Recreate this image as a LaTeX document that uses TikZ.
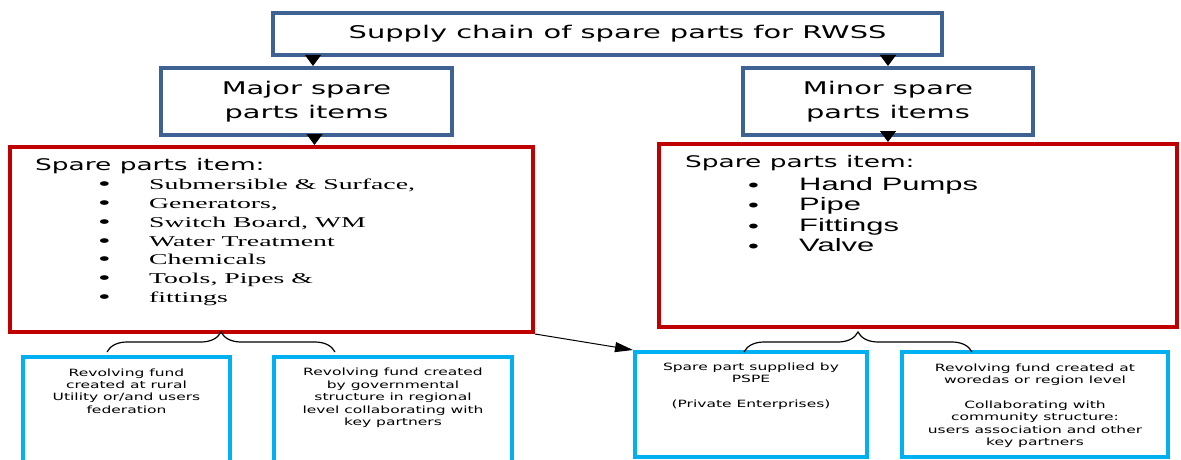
\documentclass[tikz,border=0pt]{standalone}
\usepackage{fontspec}
\usepackage{tikz}
\usetikzlibrary{arrows.meta, calc, decorations.pathreplacing, positioning}
\newfontfamily\headfont[FakeStretch=1.65]{DejaVu Sans}
\newfontfamily\fundfont[FakeStretch=1.55]{DejaVu Sans}
\newfontfamily\serifitems[FakeStretch=1.85]{Liberation Serif}
\newfontfamily\sansitems[FakeStretch=1.72]{Liberation Sans}
\newcommand{\bul}[1][1.3]{\makebox[51pt][l]{\smash{\raisebox{-0.06em}{\scalebox{#1}{\textbullet}}}}}
\tikzset{
    bluenode/.style = {draw=boxblue, line width=4pt, rectangle, fill=white, inner sep=0pt,
      node distance=0em, align=center, font=\headfont\fontsize{17.5}{24}\selectfont},
    rednode/.style = {draw=boxred, line width=4pt, rectangle, inner sep=0pt, node distance=0em},
    cyannode/.style = {draw=boxcyan, line width=4pt, rectangle, inner sep=0pt, node distance=0em},
    textnode/.style = {draw=none, fill=none, rectangle, inner sep=0pt, node distance=0em, align=left},
    fundtext/.style = {textnode, align=center, font=\fundfont\fontsize{10}{12.4}\selectfont},
    connect/.style = {black, line width=1pt, -{Triangle[width=16pt,length=11pt]}},
    bracket/.style = {black, line width=1.2pt, decorate, decoration={brace, amplitude=20pt}}
}
\definecolor{boxblue}{RGB}{62, 99, 146}
\definecolor{boxred}{RGB}{192, 0, 0}
\definecolor{boxcyan}{RGB}{0, 176, 240}

\begin{document}
\begin{tikzpicture}[x=1pt, y=-1pt]
\useasboundingbox (0,0) rectangle (1181,460);
\clip (0,0) rectangle (1181,460);

% chain head and the two branches
\node [bluenode, name=supply, minimum width=669pt, minimum height=42pt] at (607.5,34) {\hspace*{20pt}Supply chain of spare parts for RWSS};
\node [bluenode, name=major, minimum width=291pt, minimum height=67pt, below of=supply, xshift=-301pt, yshift=-67.5pt] {Major spare\\parts items};
\node [bluenode, name=minor, minimum width=290pt, minimum height=67pt, below of=supply, xshift=280.5pt, yshift=-67.5pt] {Minor spare\\parts items};

% item lists
\node [rednode, name=majoritems, minimum width=523pt, minimum height=185pt, below of=major, xshift=-35pt, yshift=-138pt] {};
\node [rednode, name=minoritems, minimum width=518pt, minimum height=183pt, below of=minor, xshift=30pt, yshift=-134pt] {};

\node [textnode, name=majorhead, anchor=west, font=\headfont\fontsize{16}{20}\selectfont] at ($(majoritems.north west)+(27,21)$) {Spare parts item:};
\node [textnode, name=majorlist, anchor=west, font=\serifitems\fontsize{15}{18.8}\selectfont] at ($(majoritems.north west)+(90,97.5)$)
  {\bul Submersible \& Surface,\\ \bul Generators,\\ \bul Switch Board, WM\\ \bul Water Treatment\\ \bul Chemicals\\ \bul Tools, Pipes \&\\ \bul fittings};

\node [textnode, name=minorhead, anchor=west, font=\headfont\fontsize{16}{20}\selectfont] at ($(minoritems.north west)+(28,21)$) {Spare parts item:};
\node [textnode, name=minorlist, anchor=west, font=\sansitems\fontsize{18}{20.3}\selectfont] at ($(minoritems.north west)+(91,72.5)$)
  {\bul[1]Hand Pumps\\ \bul[1]Pipe\\ \bul[1]Fittings\\ \bul[1]Valve};

% funding boxes
\node [cyannode, name=fund1, minimum width=207pt, minimum height=110pt, below of=majoritems, xshift=-145pt, yshift=-172.5pt] {};
\node [cyannode, name=fund2, minimum width=238pt, minimum height=110pt, below of=majoritems, xshift=121.5pt, yshift=-172.5pt] {};
\node [cyannode, name=pspe, minimum width=232pt, minimum height=105pt, below of=minoritems, xshift=-167pt, yshift=-169pt] {};
\node [cyannode, name=fund4, minimum width=266pt, minimum height=105pt, below of=minoritems, xshift=117pt, yshift=-169pt] {};

\node [fundtext, name=fund1text, below of=fund1, yshift=21pt] {Revolving fund\\created at rural\\Utility or/and users\\federation};
\node [fundtext, name=fund2text, below of=fund2, yshift=14pt] {Revolving fund created\\by governmental\\structure in regional\\level collaborating with\\key partners};
\node [fundtext, name=pspetext, below of=pspe, yshift=18.5pt] {Spare part supplied by\\PSPE\\[12.4pt](Private Enterprises)};
\node [fundtext, name=fund4text, below of=fund4, yshift=-1pt] {Revolving fund created at\\woredas or region level\\[12.4pt]Collaborating with\\community structure:\\users association and other\\key partners};

% arrows
\draw [connect] ([xshift=6.5pt]major.north |- supply.south) -- ([xshift=6.5pt]major.north);
\draw [connect] (minor.north |- supply.south) -- (minor.north);
\draw [connect] ([xshift=8pt]major.south) -- ([xshift=8pt]major.south |- majoritems.north);
\draw [connect] (minor.south) -- (minor.south |- minoritems.north);
\draw [connect, -{Triangle[width=10pt,length=18pt]}] (majoritems.south east) -- (pspe.north west);

% braces
\coordinate (majorbraceL) at (107,352);
\coordinate (majorbraceR) at (335,352);
\coordinate (minorbraceL) at (744,352);
\coordinate (minorbraceR) at (972,352);
\draw [bracket] (majorbraceL) -- (majorbraceR);
\draw [bracket] (minorbraceL) -- (minorbraceR);
\end{tikzpicture}
\end{document}
